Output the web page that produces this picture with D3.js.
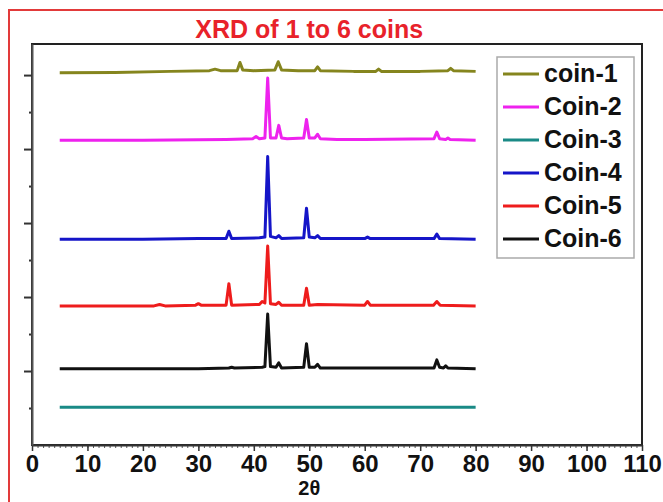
<!DOCTYPE html>
<html>
<head>
<meta charset="utf-8">
<script src="https://cdn.jsdelivr.net/npm/d3@7"></script>
<style>
  body { margin: 0; background: #fff; }
  svg text { font-family: "Liberation Sans", Arial, sans-serif; font-weight: bold; }
</style>
</head>
<body>
<div id="chart"></div>
<script>
/* Constant definitions */
const WIDTH = 663
const HEIGHT = 502
const PLOT = {left: 32, right: 642, top: 44, bottom: 445}

/* Data: [2theta, intensity], plus a vertical offset per trace */
const seriesNames = ["coin-1", "Coin-2", "Coin-3", "Coin-4", "Coin-5", "Coin-6"]
const seriesColors = ["#85851e", "#ee22ee", "#1a8a86", "#1515c8", "#ee1c1c", "#111111"]
const seriesOffsets = [505, 412, 51, 278, 188, 103]

const coin1 = [[5, -2], [15, -1.5], [25, 0], [32, 1], [33, 3], [34, 1], [37, 1], [37.5, 12], [38, 2],
  [40, 1], [43.8, 2], [44.4, 13], [45, 2], [48, 1], [51, 1], [51.5, 6], [52, 1], [58, 0],
  [62, 0], [62.5, 3], [63, 0], [70, 0], [75, 1], [75.5, 4], [76, 1], [80, 0]]
const coin2 = [[5, 0], [20, 0], [35, 1], [39.8, 2], [40.4, 5], [41, 2], [42, 3], [42.5, 84], [43, 3],
  [44, 3], [44.5, 20], [45, 3], [46, 2], [49, 3], [49.5, 28], [50, 3], [51, 3], [51.5, 8], [52, 2],
  [55, 1], [60, 1], [72.5, 2], [73, 11], [73.5, 2], [74.6, 1], [75, 3], [75.4, 1], [80, 0]]
const coin3 = [[5, 0], [80, 0]]
const coin4 = [[5, 0], [20, 0], [30, 1], [35, 1], [35.5, 11], [36, 1], [41, 2], [42, 3], [42.5, 112],
  [43, 4], [44, 2], [44.5, 5], [45, 1], [49, 2], [49.5, 42], [50, 3], [51, 2], [51.5, 5], [52, 1],
  [60, 1], [60.5, 3], [61, 1], [72.5, 1], [73, 7], [73.5, 1], [80, 0]]
const coin5 = [[5, 0], [22, 0], [23, 2], [24, 0], [29.5, 1], [30, 3], [30.5, 1], [35, 1], [35.5, 30],
  [36, 1], [41, 2], [41.5, 6], [42, 4], [42.5, 81], [43, 3], [44, 2], [44.5, 5], [45, 1], [49, 1],
  [49.5, 24], [50, 1], [51.5, 2], [60, 1], [60.5, 6], [61, 1], [72.4, 1], [73, 6], [73.6, 1], [80, 0]]
const coin6 = [[5, 0], [30, 0], [35.5, 1], [36, 2], [36.5, 1], [41.5, 2], [42, 3], [42.5, 74], [43, 3],
  [44, 2], [44.5, 8], [45, 1], [49, 2], [49.5, 34], [50, 2], [51, 2], [51.5, 6], [52, 1], [60, 1],
  [72.5, 1], [73, 12], [73.5, 2], [74.2, 1], [74.6, 4], [75, 1], [80, 0]]
const seriesData = [coin1, coin2, coin3, coin4, coin5, coin6]

/* Tick labels */
const angleTicks = [0, 10, 20, 30, 40, 50, 60, 70, 80, 90, 100, 110]
const angleMinorTicks = d3.range(0, 111, 1)
const intensityMajorTicks = [100, 200, 300, 400, 500]
const intensityMinorTicks = [50, 150, 250, 350, 450]

/* Define svg */
const canvas = d3.select("#chart")
                 .append("svg")
                 .attr("width", WIDTH)
                 .attr("height", HEIGHT);

const xScale = d3.scaleLinear().domain([0, 110]).range([PLOT.left, PLOT.right]);
const yScale = d3.scaleLinear().domain([0, 542]).range([PLOT.bottom, PLOT.top]);

/* outer red frame */
canvas.append("path")
      .attr("d", "M9,502 L9,10 L663,10")
      .attr("fill", "none")
      .attr("stroke", "#e23a3a")
      .attr("stroke-width", 2);

/* plot box */
canvas.append("rect")
      .attr("x", PLOT.left).attr("y", PLOT.top)
      .attr("width", PLOT.right - PLOT.left).attr("height", PLOT.bottom - PLOT.top)
      .attr("fill", "none")
      .attr("stroke", "#222")
      .attr("stroke-width", 2);

/* axes */
canvas.append("g")
      .attr("transform", "translate(0," + PLOT.bottom + ")")
      .call(d3.axisBottom(xScale).tickValues(angleMinorTicks).tickSize(3).tickFormat(""))
      .call(g => g.select(".domain").remove())
      .selectAll("line").attr("stroke", "#555");
const xAxis = canvas.append("g")
      .attr("transform", "translate(0," + PLOT.bottom + ")")
      .call(d3.axisBottom(xScale).tickValues(angleTicks).tickSize(6).tickSizeOuter(0).tickPadding(4));
xAxis.select(".domain").attr("stroke", "#333").attr("stroke-width", 2);
xAxis.selectAll("line").attr("stroke", "#333").attr("stroke-width", 1.5);
xAxis.selectAll("text").attr("font-size", 24).attr("fill", "#111")
     .attr("font-family", "'Liberation Sans', Arial, sans-serif").attr("font-weight", "bold");

const yMinor = canvas.append("g")
      .attr("transform", "translate(" + PLOT.left + ",0)")
      .call(d3.axisLeft(yScale).tickValues(intensityMinorTicks).tickSize(3).tickFormat(""));
yMinor.select(".domain").remove();
yMinor.selectAll("line").attr("stroke", "#333").attr("stroke-width", 2);
const yAxis = canvas.append("g")
      .attr("transform", "translate(" + PLOT.left + ",0)")
      .call(d3.axisLeft(yScale).tickValues(intensityMajorTicks).tickSize(8).tickSizeOuter(0).tickFormat(""));
yAxis.select(".domain").attr("stroke", "#555").attr("stroke-width", 2);
yAxis.selectAll("line").attr("stroke", "#333").attr("stroke-width", 2);

/* traces */
const line = d3.line()
               .x((d) => xScale(d[0]))
               .y((d) => d[1]);
seriesData.forEach((pts, i) => {
  canvas.append("path")
        .datum(pts.map((p) => [p[0], yScale(p[1] + seriesOffsets[i])]))
        .attr("d", line)
        .attr("fill", "none")
        .attr("stroke", seriesColors[i])
        .attr("stroke-width", 3)
        .attr("stroke-linejoin", "round");
});

/* title and axis label */
canvas.append("text")
      .attr("x", xScale(50)).attr("y", 38)
      .attr("text-anchor", "middle")
      .attr("font-size", 25)
      .attr("fill", "#e8222a")
      .text("XRD of 1 to 6 coins");
canvas.append("text")
      .attr("x", xScale(50)).attr("y", 495)
      .attr("text-anchor", "middle")
      .attr("font-size", 20)
      .attr("fill", "#111")
      .text("2θ");

/* legend */
const legend = canvas.append("g").attr("transform", "translate(497,57)");
legend.append("rect")
      .attr("width", 137).attr("height", 201)
      .attr("fill", "#fff")
      .attr("stroke", "#aaa")
      .attr("stroke-width", 1.5);
seriesNames.forEach((name, i) => {
  const y = 16 + i * 33;
  legend.append("line")
        .attr("x1", 6).attr("x2", 42).attr("y1", y + 1).attr("y2", y + 1)
        .attr("stroke", seriesColors[i]).attr("stroke-width", 3);
  legend.append("text")
        .attr("x", 47).attr("y", y + 9)
        .attr("font-size", 25)
        .attr("fill", "#111")
        .text(name);
});
</script>
</body>
</html>
